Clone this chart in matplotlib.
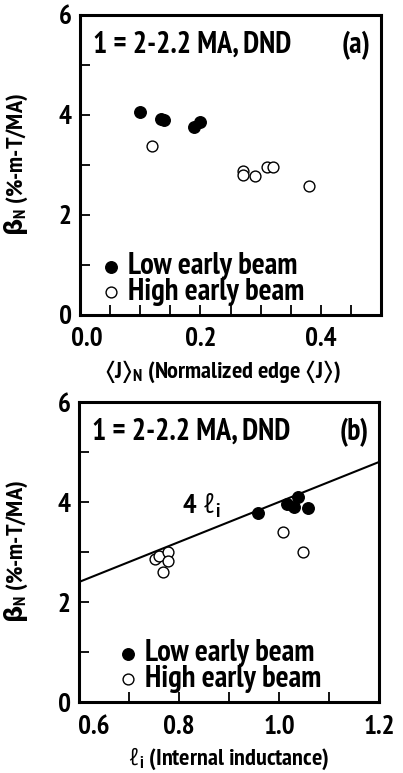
import matplotlib
matplotlib.use("Agg")
import matplotlib.pyplot as plt
from matplotlib import font_manager as fm
from matplotlib.transforms import ScaledTranslation
import numpy as np

# pick a condensed bold sans font that is installed
candidates = ['Liberation Sans Narrow', 'Arial Narrow', 'Archivo Narrow', 'PT Sans Narrow',
              'Roboto Condensed', 'IBM Plex Sans Condensed', 'Encode Sans Condensed',
              'Barlow Semi Condensed', 'Pragati Narrow', 'Liberation Sans']
avail = {}
for f in fm.fontManager.ttflist:
    w = f.weight if isinstance(f.weight, int) else {'bold': 700}.get(f.weight, 400)
    avail.setdefault(f.name, set()).add(w)
MAIN = next(c for c in candidates if c in avail and max(avail[c]) >= 600)

plt.rcParams['font.family'] = [MAIN, 'DejaVu Sans']
plt.rcParams['font.weight'] = 'bold'
plt.rcParams['mathtext.fontset'] = 'custom'
plt.rcParams['mathtext.rm'] = MAIN + ':bold'
plt.rcParams['mathtext.bf'] = MAIN + ':bold'
plt.rcParams['mathtext.it'] = MAIN + ':italic'
plt.rcParams['mathtext.sf'] = 'DejaVu Sans'
plt.rcParams['mathtext.fallback'] = 'stixsans'

# Panel (a): normalized edge current vs beta_N
a_low_x = [0.10, 0.135, 0.14, 0.19, 0.20]
a_low_y = [4.06, 3.93, 3.90, 3.76, 3.86]
a_high_x = [0.12, 0.27, 0.27, 0.29, 0.31, 0.32, 0.38]
a_high_y = [3.38, 2.88, 2.80, 2.78, 2.97, 2.97, 2.58]

# Panel (b): internal inductance vs beta_N
b_low_x = [0.958, 1.016, 1.03, 1.038, 1.058]
b_low_y = [3.78, 3.96, 3.90, 4.10, 3.88]
b_high_x = [1.008, 1.048, 0.752, 0.76, 0.778, 0.778, 0.768]
b_high_y = [3.40, 3.00, 2.86, 2.92, 3.00, 2.82, 2.60]

line_slope = 4.0
line_x = [0.6, 1.2]

a_xticks = [0.0, 0.2, 0.4]
a_xticklabels = ["0.0", "0.2", "0.4"]
b_xticks = [0.6, 0.8, 1.0, 1.2]
b_xticklabels = ["0.6", "0.8", "1.0", "1.2"]
yticks = [0, 2, 4, 6]

title_text = "1 = 2-2.2 MA, DND"
legend_labels = ["Low early beam", "High early beam"]

W, H = 403, 773
fig = plt.figure(figsize=(W / 100, H / 100), dpi=100)

def px_axes(left, top, right, bottom):
    return fig.add_axes([left / W, 1 - bottom / H, (right - left) / W, (bottom - top) / H])

axa = px_axes(80, 15, 381, 315)
axb = px_axes(79, 402, 379, 702)

FS_TICK = 19.5
FS_TITLE = 21.5
FS_LEG = 22
FS_LAB = 17.5

def style(ax, xlim, xmajor, xlabels, xminor_step):
    ax.set_ylim(0, 6)
    ax.set_xlim(*xlim)
    ax.set_yticks(yticks)
    ax.set_yticks([1, 3, 5], minor=True)
    ax.set_xticks(xmajor)
    ax.set_xticklabels(xlabels)
    ax.set_xticks(np.arange(xlim[0], xlim[1] + 1e-9, xminor_step), minor=True)
    for s in ax.spines.values():
        s.set_linewidth(2.2)
    ax.tick_params(which='both', direction='in', width=1.3, labelsize=FS_TICK, length=7)
    ax.tick_params(axis='x', pad=9)
    ax.tick_params(axis='y', pad=6)
    for t in ax.get_xticklabels() + ax.get_yticklabels():
        t.set_fontweight('bold')

style(axa, (0.0, 0.5), a_xticks, a_xticklabels, 0.05)
style(axb, (0.6, 1.2), b_xticks, b_xticklabels, 0.1)

# shift first x tick labels to the right a bit
lab0 = axa.get_xticklabels()[0]
lab0.set_transform(lab0.get_transform() + ScaledTranslation(7 / 100, 0, fig.dpi_scale_trans))
lab0b = axb.get_xticklabels()[0]
lab0b.set_transform(lab0b.get_transform() + ScaledTranslation(15 / 100, 0, fig.dpi_scale_trans))

ms = 8.3
for ax, lx, ly, hx, hy in [(axa, a_low_x, a_low_y, a_high_x, a_high_y),
                           (axb, b_low_x, b_low_y, b_high_x, b_high_y)]:
    ax.plot(hx, hy, 'o', ms=ms - 0.5, mfc='white', mec='black', mew=1.0, zorder=3)
    ax.plot(lx, ly, 'o', ms=ms, mfc='black', mec='black', mew=1.0, zorder=4)

lx = np.array(line_x)
axb.plot(lx, line_slope * lx, color='black', lw=1.5, zorder=2)
axb.text(0.806, 3.92, r'4 $\ell_\mathbf{i}$', fontsize=FS_TITLE - 1, fontweight='bold',
         ha='left', va='center')

for ax, tag in [(axa, "(a)"), (axb, "(b)")]:
    ax.text(0.043, 0.9, title_text, transform=ax.transAxes, fontsize=FS_TITLE,
            fontweight='bold', ha='left', va='center')
    ax.text(0.965, 0.9, tag, transform=ax.transAxes, fontsize=FS_TITLE,
            fontweight='bold', ha='right', va='center')

def legend(ax, bottom_px, x_marker_px, x0_px):
    # positions in pixels above the axes bottom
    xm = (x_marker_px - x0_px) / 300
    xt = xm + 17 / 300
    marker_y = [48 / 300, 23 / 300]
    base_y = [41 / 300, 15 / 300]
    ax.plot([xm], [marker_y[0]], 'o', transform=ax.transAxes, ms=8.3, mfc='black',
            mec='black', clip_on=False)
    ax.plot([xm], [marker_y[1]], 'o', transform=ax.transAxes, ms=7.8, mfc='white',
            mec='black', mew=1.0, clip_on=False)
    for k, lab in enumerate(legend_labels):
        ax.text(xt, base_y[k], lab, transform=ax.transAxes, fontsize=FS_LEG,
                fontweight='bold', ha='left', va='baseline')

legend(axa, 315, 111, 80)
legend(axb, 702, 128, 79)

ylab = r'$\mathsf{\beta}_\mathbf{N}$ (%-m-T/MA)'
for ax, x0 in [(axa, 80), (axb, 79)]:
    ax.set_ylabel(ylab, fontsize=FS_LAB, fontweight='bold')
    ax.yaxis.set_label_coords((30 - x0) / 300, 0.5)

axa.set_xlabel(r'$\langle$J$\rangle_\mathbf{N}$ (Normalized edge $\langle$J$\rangle$)',
               fontsize=FS_LAB, fontweight='bold')
axa.xaxis.set_label_coords((222 - 80) / 300, -(359 - 315) / 300)
axb.set_xlabel(r'$\ell_\mathbf{i}$ (Internal inductance)', fontsize=FS_LAB, fontweight='bold')
axb.xaxis.set_label_coords((228 - 79) / 300, -(746 - 702) / 300)

fig.savefig("out.png", dpi=100)
